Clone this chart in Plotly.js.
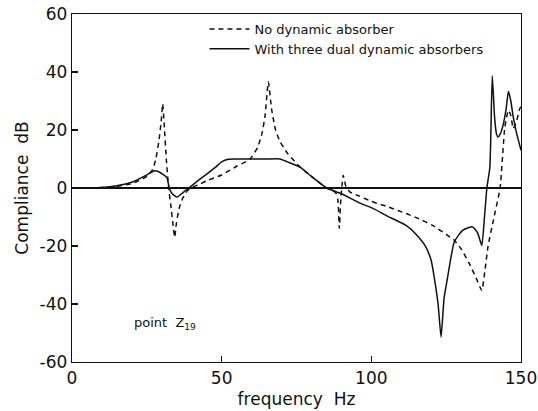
<!DOCTYPE html>
<html>
<head>
<meta charset="utf-8">
<script src="https://cdn.plot.ly/plotly-3.0.1.min.js"></script>
<style>html,body{margin:0;padding:0;background:#fff;}#chart{width:538px;height:411px;}</style>
</head>
<body>
<div id="chart"></div>
<script>
// No dynamic absorber (dashed)
var freqNo = [0, 5, 10, 15, 20, 25, 27, 28, 29, 29.8, 30.3, 30.8, 31.5, 32.3, 33, 33.8, 34.3, 34.9, 35.8, 37, 38.5, 39.5, 42, 45, 50, 55, 59.4, 62, 63.5, 64.5, 65.6, 66.7, 68, 69.5, 72, 76.2, 80, 85, 88, 88.8, 89.3, 89.8, 90.3, 90.6, 91.5, 92.9, 96, 100, 105, 111.6, 115, 120.5, 125, 127.7, 130, 132.7, 135, 136.9, 138, 139, 140.8, 143, 144.6, 145.8, 146.6, 147.4, 148.5, 149.6, 150];
var dbNo = [0, 0, 0.2, 0.6, 1.5, 4, 6.5, 10, 16, 23, 29, 22, 10, 0, -6, -13, -17, -12, -7, -3.5, -1, 0, 1, 2.5, 4.5, 7.5, 9.9, 14, 19, 25, 36.6, 27, 20, 16, 12, 7.2, 4, 0, -1.5, -4, -13.9, -4, 2, 4.4, 0.5, -1.4, -2.8, -4.6, -6.3, -8.8, -10.2, -12.9, -16, -18, -21, -26, -31, -35.3, -28, -20, -11, 0, 21, 26.8, 25, 20.5, 23, 27.4, 28];

// With three dual dynamic absorbers (solid)
var freqWith = [0, 5, 10, 15, 20, 25, 27.3, 29, 30.5, 31.7, 32.5, 33.4, 35.1, 36.7, 39, 42.3, 45, 48, 50, 52.2, 55, 60, 65, 69.5, 72, 76.2, 80, 85.1, 90, 96.2, 100.7, 105, 111.6, 115, 118.2, 120, 121, 122.3, 123.3, 124.3, 125.5, 127.7, 130.5, 133.8, 135.5, 136.9, 137.8, 138.6, 139.6, 140.4, 141.2, 141.8, 142.3, 143, 144, 145, 145.8, 146.6, 147.4, 148.5, 150];
var dbWith = [0, 0, 0.2, 0.8, 2, 4.5, 5.9, 5.6, 4.6, 3.6, 0, -1.9, -3.1, -1.9, 0, 2.7, 4.8, 7.2, 9, 9.9, 10, 10, 10, 10, 9, 7.2, 4, 0, -2, -5.2, -7.1, -9.5, -12.9, -16, -20.3, -25, -30.7, -40, -51.4, -38, -30.7, -18.6, -14.6, -13.4, -15.5, -19.8, -10, 0, 7.2, 38.7, 24, 18.7, 17.6, 18.5, 21.6, 27, 33.4, 30, 24.5, 19, 13];

var xTicks = [0, 50, 100, 150];
var yTicks = [-60, -40, -20, 0, 20, 40, 60];
var seriesNames = ['No dynamic absorber', 'With three dual dynamic absorbers'];

var fontFam = 'DejaVu Sans, sans-serif';
var ink = '#111';
var sp = '\u00a0';

var traces = [
  {x: freqNo, y: dbNo, mode: 'lines', name: seriesNames[0],
   line: {color: ink, width: 1.5, dash: '5px,4px', shape: 'spline', smoothing: 0.5}},
  {x: freqWith, y: dbWith, mode: 'lines', name: seriesNames[1],
   line: {color: ink, width: 1.5, shape: 'spline', smoothing: 0.5}}
];

var layout = {
  width: 538, height: 411,
  margin: {l: 72, r: 17, t: 14, b: 49},
  paper_bgcolor: '#fff', plot_bgcolor: '#fff',
  font: {family: fontFam, color: ink, size: 17},
  showlegend: true,
  legend: {x: 0.295, y: 1.0, xanchor: 'left', yanchor: 'top',
           bgcolor: 'rgba(0,0,0,0)', borderwidth: 0,
           font: {family: fontFam, size: 13, color: ink},
           tracegroupgap: 0, itemwidth: 40},
  xaxis: {range: [0, 150], tickvals: xTicks, ticktext: xTicks.map(String),
          ticks: 'inside', ticklen: 6, tickwidth: 1.2, tickcolor: ink,
          showline: true, linecolor: ink, linewidth: 1.3, mirror: true,
          showgrid: false, zeroline: false,
          tickfont: {size: 17},
          title: {text: 'frequency' + sp + sp + 'Hz', font: {size: 17}, standoff: 6}},
  yaxis: {range: [-60, 60], tickvals: yTicks, ticktext: yTicks.map(String),
          ticks: 'inside', ticklen: 6, tickwidth: 1.2, tickcolor: ink,
          showline: true, linecolor: ink, linewidth: 1.3, mirror: true,
          showgrid: false, zeroline: true, zerolinecolor: ink, zerolinewidth: 1.3,
          tickfont: {size: 17},
          title: {text: 'Compliance' + sp + sp + 'dB', font: {size: 17}, standoff: 6}},
  annotations: [
    {x: 20, y: -46.7, xref: 'x', yref: 'y', xanchor: 'left', yanchor: 'middle',
     text: 'point' + sp + sp + 'Z<sub>19</sub>', showarrow: false,
     font: {family: fontFam, size: 13, color: ink}}
  ]
};

Plotly.newPlot('chart', traces, layout, {displayModeBar: false, staticPlot: true});
</script>
</body>
</html>
